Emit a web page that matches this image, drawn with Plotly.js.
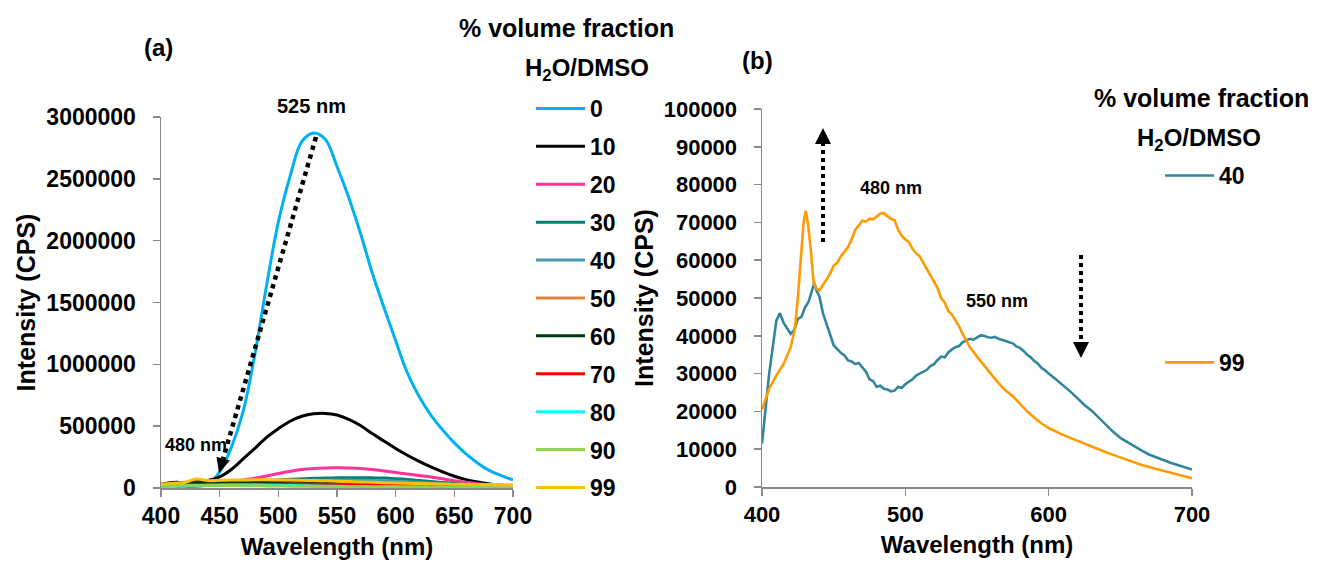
<!DOCTYPE html>
<html><head><meta charset="utf-8">
<script src="https://cdn.plot.ly/plotly-3.0.1.min.js"></script>
<style>html,body{margin:0;padding:0;background:#fff}#chart{width:1321px;height:577px}</style>
</head><body><div id="chart"></div><script>
// ---------- Panel (a) data ----------
const wavelengthA = [400,410,420,430,440,450,460,470,480,490,500,510,520,530,540,550,560,570,580,590,600,610,620,630,640,650,660,670,680,690,700];
const fractionsA = ['0','10','20','30','40','50','60','70','80','90','99'];
const colorsA = ['#00B0F0','#000000','#FF3399','#00807A','#4A9AB4','#E3843A','#003A0A','#FF0000','#00FFFF','#92D050','#FFC000'];
const int0  = [5e3,8e3,10e3,15e3,30e3,130e3,330e3,620e3,1080e3,1640e3,2150e3,2520e3,2800e3,2870e3,2820e3,2600e3,2350e3,2060e3,1740e3,1460e3,1190e3,930e3,740e3,590e3,470e3,365e3,275e3,200e3,140e3,100e3,65e3];
const int10 = [30e3,45e3,45e3,50e3,60e3,90e3,150e3,235e3,320e3,410e3,480e3,540e3,580e3,600e3,603e3,590e3,555e3,505e3,440e3,380e3,320e3,265e3,215e3,170e3,130e3,95e3,68e3,48e3,33e3,22e3,16e3];
const int20 = [15e3,18e3,22e3,27e3,32e3,40e3,50e3,65e3,80e3,97e3,118e3,135e3,150e3,158e3,162e3,163e3,161e3,157e3,149e3,138e3,125e3,113e3,101e3,89e3,74e3,59e3,46e3,34e3,25e3,18e3,12e3];
const int30 = [20e3,28e3,30e3,32e3,34e3,38e3,42e3,48e3,54e3,60e3,65e3,70e3,74e3,78e3,81e3,82e3,83e3,83e3,82e3,80e3,75e3,69e3,61e3,53e3,45e3,37e3,30e3,23e3,17e3,12e3,9e3];
const int40 = [18e3,25e3,28e3,30e3,32e3,35e3,38e3,42e3,46e3,50e3,54e3,57e3,60e3,62e3,63e3,64e3,64e3,63e3,61e3,58e3,55e3,50e3,45e3,39e3,33e3,27e3,22e3,17e3,13e3,10e3,8e3];
const int50 = [12e3,18e3,22e3,38e3,35e3,36e3,38e3,40e3,42e3,43e3,44e3,45e3,45e3,44e3,43e3,42e3,40e3,38e3,35e3,32e3,29e3,26e3,23e3,20e3,18e3,16e3,14e3,12e3,11e3,10e3,9e3];
const int60 = [25e3,38e3,40e3,42e3,44e3,46e3,48e3,50e3,51e3,52e3,53e3,54e3,54e3,53e3,52e3,50e3,48e3,45e3,42e3,38e3,34e3,30e3,26e3,22e3,19e3,16e3,13e3,11e3,9e3,8e3,7e3];
const int70 = [10e3,14e3,16e3,18e3,20e3,22e3,24e3,26e3,27e3,28e3,29e3,30e3,30e3,30e3,29e3,28e3,27e3,26e3,24e3,22e3,20e3,18e3,16e3,14e3,12e3,11e3,10e3,9e3,8e3,7e3,6e3];
const int80 = [8e3,12e3,15e3,18e3,22e3,24e3,25e3,25e3,24e3,23e3,22e3,20e3,18e3,17e3,15e3,14e3,13e3,12e3,11e3,10e3,9e3,8e3,8e3,7e3,7e3,6e3,6e3,5e3,5e3,5e3,4e3];
const int90 = [20e3,22e3,22e3,22e3,22e3,21e3,20e3,19e3,18e3,17e3,16e3,15e3,14e3,13e3,12e3,11e3,10e3,10e3,9e3,9e3,8e3,8e3,7e3,7e3,6e3,6e3,6e3,5e3,5e3,5e3,4e3];
const int99 = [30e3,38e3,45e3,72e3,60e3,62e3,64e3,65e3,66e3,66e3,65e3,64e3,62e3,60e3,58e3,55e3,52e3,49e3,46e3,43e3,40e3,38e3,36e3,34e3,32e3,31e3,30e3,29e3,28e3,27e3,26e3];
const seriesA = [int0,int10,int20,int30,int40,int50,int60,int70,int80,int90,int99];

// ---------- Panel (b) data ----------
const wavelength40 = [400,405,410,412.5,415,417.5,420,422.5,425,427.5,430,432.5,435,436.5,438,440,442.5,445,447.5,450,452.5,455,457.5,460,462.5,465,467.5,470,472.5,475,477.5,480,482.5,485,487.5,490,492.5,495,497.5,500,502.5,505,507.5,510,512.5,515,517.5,520,522.5,525,527.5,530,532.5,535,537.5,540,542.5,545,547.5,550,552.5,555,557.5,560,562.5,565,567.5,570,572.5,575,577.5,580,582.5,585,587.5,590,592.5,595,597.5,600,605,610,615,620,625,630,635,640,645,650,655,660,665,670,675,680,685,690,695,700];
const int40b = [11.5e3,30e3,44e3,46e3,43.5e3,42e3,40.5e3,41.5e3,44.5e3,45e3,47.5e3,49e3,52e3,54e3,52e3,50.5e3,46e3,43e3,40e3,37.5e3,36.5e3,35.5e3,34.8e3,33.5e3,33.2e3,32.5e3,32.8e3,31.5e3,30.5e3,28.5e3,28e3,26.5e3,26.8e3,26e3,25.8e3,25.3e3,25.5e3,26.5e3,26.2e3,27.2e3,27.8e3,28.5e3,29.5e3,30e3,30.3e3,31e3,32e3,32.5e3,33.6e3,34.5e3,34.3e3,35.6e3,36.4e3,37e3,37.3e3,38.3e3,38.8e3,39.2e3,39.0e3,39.6e3,40.1e3,40e3,39.6e3,39.5e3,39.7e3,39.2e3,39.0e3,38.6e3,38.3e3,38e3,37.2e3,36.8e3,36e3,35e3,34.3e3,33.3e3,32.6e3,31.5e3,30.9e3,30e3,28.5e3,27e3,25.3e3,23.5e3,21.7e3,20.2e3,18.3e3,16.3e3,14.6e3,13e3,11.8e3,10.6e3,9.6e3,8.6e3,7.8e3,7e3,6.4e3,5.8e3,5.2e3,4.6e3];
const wavelength99 = [400,405,410,415,420,423,425,427,429,430.5,432,434,436,438,440,442.5,445,447.5,450,452.5,455,457.5,460,462.5,465,467.5,470,472.5,475,477.5,480,482.5,485,487.5,490,492.5,495,497.5,500,502.5,505,507.5,510,512.5,515,517.5,520,522.5,525,527.5,530,532.5,535,537.5,540,545,550,555,560,565,570,575,580,585,590,595,600,605,610,615,620,625,630,635,640,645,650,655,660,665,670,675,680,685,690,695,700];
const int99b = [20.5e3,26e3,29.5e3,32.5e3,37e3,42e3,50e3,61e3,70e3,73e3,70e3,63e3,54e3,52.5e3,52e3,53.5e3,54.8e3,56.5e3,58.5e3,59.3e3,61e3,62.2e3,63.5e3,65.5e3,68e3,69.2e3,70.5e3,70.2e3,71e3,70.8e3,71.5e3,72.3e3,72.5e3,71.6e3,71e3,70.6e3,68e3,66.5e3,65.5e3,64.8e3,63e3,61.8e3,61e3,59.3e3,58e3,56.2e3,54.5e3,52.6e3,50e3,48.8e3,46.5e3,45.6e3,44e3,42.5e3,40.5e3,37e3,34.5e3,32e3,29.8e3,27.5e3,25.5e3,24e3,22e3,20e3,18.3e3,16.8e3,15.6e3,14.6e3,13.8e3,13e3,12.2e3,11.4e3,10.7e3,10e3,9.2e3,8.5e3,7.8e3,7e3,6.4e3,5.8e3,5.3e3,4.8e3,4.3e3,3.8e3,3.2e3,2.8e3,2.3e3];
const fractionsB = ['40','99'];
const colorsB = ['#31859C','#FF9A00'];

// ---------- layout helpers ----------
const W = 1321, H = 577;
const px = x => x / W;
const py = y => 1 - y / H;
const FONT = 'Liberation Sans, Arial, Helvetica, sans-serif';

const traces = [];
seriesA.forEach((s, i) => {
  traces.push({
    x: wavelengthA, y: s, name: fractionsA[i], type: 'scatter', mode: 'lines',
    line: {color: colorsA[i], width: 3, shape: 'spline', smoothing: 1},
    xaxis: 'x', yaxis: 'y', legend: 'legend', legendgroup: 'a' + i
  });
});
traces.push({x: wavelength40, y: int40b, name: fractionsB[0], type: 'scatter', mode: 'lines',
  line: {color: colorsB[0], width: 2.6}, xaxis: 'x2', yaxis: 'y2', legend: 'legend2', legendgroup: 'b0'});
traces.push({x: wavelength99, y: int99b, name: fractionsB[1], type: 'scatter', mode: 'lines',
  line: {color: colorsB[1], width: 2.6}, xaxis: 'x2', yaxis: 'y2', legend: 'legend2', legendgroup: 'b1'});

const axisCommon = {
  showgrid: false, zeroline: false, showline: true, linecolor: '#8A8A8A', linewidth: 1.5,
  ticks: 'outside', ticklen: 7, tickwidth: 1.5, tickcolor: '#8A8A8A',
  tickfont: {family: FONT, size: 23, color: '#000', weight: 'bold'},
  fixedrange: true
};
const titleFont = {family: FONT, size: 24, color: '#000', weight: 'bold'};

const legendCommon = {
  font: {family: FONT, size: 23, color: '#000', weight: 'bold'},
  bgcolor: 'rgba(0,0,0,0)', borderwidth: 0, xanchor: 'left', yanchor: 'top',
  itemwidth: 49, itemclick: false, itemdoubleclick: false
};

const annFont = s => ({family: FONT, size: s, color: '#000'});
const ann = (text, x, y, size) => ({text: '<b>' + text + '</b>', xref: 'paper', yref: 'paper',
  x: px(x), y: py(y), xanchor: 'center', yanchor: 'middle', showarrow: false, font: annFont(size)});

const tri = (pts) => ({type: 'path', xref: 'paper', yref: 'paper',
  path: 'M ' + pts.map(p => px(p[0]) + ' ' + py(p[1])).join(' L ') + ' Z',
  fillcolor: '#000', line: {width: 0}});
const dotted = (x0, y0, x1, y1, w) => ({type: 'line', xref: 'paper', yref: 'paper',
  x0: px(x0), y0: py(y0), x1: px(x1), y1: py(y1), line: {color: '#000', width: w, dash: 'dot'}});

const layout = {
  width: W, height: H, margin: {l: 0, r: 0, t: 0, b: 0},
  paper_bgcolor: '#fff', plot_bgcolor: '#fff', showlegend: true,
  xaxis: Object.assign({}, axisCommon, {domain: [px(161), px(513)], range: [400, 700], dtick: 50, tick0: 400,
    anchor: 'y', title: {text: '<b>Wavelength (nm)</b>', font: titleFont, standoff: 10}}),
  yaxis: Object.assign({}, axisCommon, {domain: [py(488), py(117)], range: [0, 3000000], dtick: 500000,
    tickformat: 'd', anchor: 'x', ticklabelstandoff: 12,
    title: {text: '<b>Intensity (CPS)</b>', font: {family: FONT, size: 25, color: '#000', weight: 'bold'}, standoff: 3}}),
  xaxis2: Object.assign({}, axisCommon, {domain: [px(762), px(1192)], range: [400, 700], dtick: 100, tick0: 400,
    anchor: 'y2', tickfont: {family: FONT, size: 22, color: '#000', weight: 'bold'},
    title: {text: '<b>Wavelength (nm)</b>', font: titleFont, standoff: 10}}),
  yaxis2: Object.assign({}, axisCommon, {domain: [py(487), py(109)], range: [0, 100000], dtick: 10000,
    tickformat: 'd', anchor: 'x2', ticklabelstandoff: 12, tickfont: {family: FONT, size: 22, color: '#000', weight: 'bold'},
    title: {text: '<b>Intensity (CPS)</b>', font: {family: FONT, size: 25, color: '#000', weight: 'bold'}, standoff: 3}}),
  legend: Object.assign({}, legendCommon, {x: px(531), y: py(87), tracegroupgap: 5}),
  legend2: Object.assign({}, legendCommon, {x: px(1160), y: py(154), tracegroupgap: 154}),
  annotations: [
    ann('(a)', 158, 48, 24),
    ann('(b)', 757, 60, 24),
    ann('% volume fraction', 566, 28, 25),
    ann('H<sub>2</sub>O/DMSO', 587, 70, 24),
    ann('525 nm', 311, 106, 20),
    ann('480 nm', 196, 445, 18),
    ann('% volume fraction', 1201, 98, 25),
    ann('H<sub>2</sub>O/DMSO', 1199, 140, 24),
    ann('480 nm', 891, 188, 18),
    ann('550 nm', 997, 301, 18)
  ],
  shapes: [
    dotted(316, 137, 223.2, 458.6, 4.5),
    tri([[219, 473], [229.9, 460.5], [216.5, 456.7]]),
    dotted(823, 242, 823, 143, 4),
    tri([[823, 128], [815, 144], [831, 144]]),
    dotted(1081, 255, 1081, 343, 4),
    tri([[1081, 358], [1073, 342], [1089, 342]])
  ]
};

Plotly.newPlot('chart', traces, layout, {displayModeBar: false, staticPlot: true});
</script></body></html>
